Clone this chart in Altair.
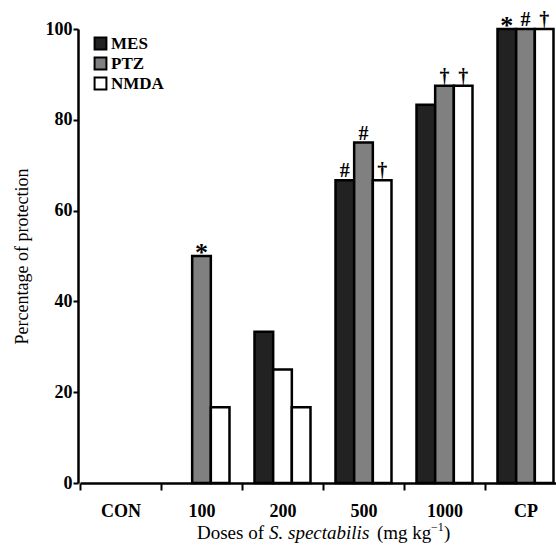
import altair as alt
import pandas as pd

# ---- data ----
doses = ["CON", "100", "200", "500", "1000", "CP"]
series = ["MES", "PTZ", "NMDA"]
mes = [0, 0, 33.3, 66.7, 83.3, 100]
ptz = [0, 50, 25, 75, 87.5, 100]
nmda = [0, 16.7, 16.7, 66.7, 87.5, 100]
colors = ["#222222", "#808080", "#ffffff"]
y_ticks = [0, 20, 40, 60, 80, 100]

marker_dose = ["100", "500", "500", "500", "1000", "1000", "CP", "CP", "CP"]
marker_series = ["PTZ", "MES", "PTZ", "NMDA", "PTZ", "NMDA", "MES", "PTZ", "NMDA"]
marker_symbol = ["*", "#", "#", "†", "†", "†", "*", "#", "†"]

rows = []
for s, vals in zip(series, [mes, ptz, nmda]):
    for d, v in zip(doses, vals):
        rows.append({"dose": d, "series": s, "value": v})
df = pd.DataFrame(rows)
lookup = {(r["dose"], r["series"]): r["value"] for r in rows}
mdf = pd.DataFrame({
    "dose": marker_dose,
    "series": marker_series,
    "symbol": marker_symbol,
    "value": [lookup[(d, s)] for d, s in zip(marker_dose, marker_series)],
})

FONT = "Liberation Serif"

x_scale = alt.Scale(domain=doses, range=[2, 488], paddingInner=0, paddingOuter=0)
x_axis = alt.Axis(title=None, tickBand="extent", labelAngle=0, labelFont=FONT,
                  labelFontSize=18, labelFontWeight="bold", labelColor="black",
                  tickSize=7, tickWidth=2, tickColor="black", domainWidth=2.5,
                  domainColor="black", labelPadding=12, grid=False)
y_scale = alt.Scale(domain=[0, 100], nice=False, zero=True)
y_axis = alt.Axis(values=y_ticks, title="Percentage of protection", titleFont=FONT,
                  titleFontSize=18, titleFontWeight="normal", titleColor="black",
                  titleX=-56, titleY=227, titleAngle=-90, titleBaseline="middle",
                  titleAlign="center",
                  labelFont=FONT, labelFontSize=18, labelFontWeight="bold",
                  labelColor="black", tickSize=5, tickWidth=2, tickColor="black",
                  domainWidth=2.5, domainColor="black", labelPadding=1, grid=False)
xoff = alt.XOffset("series:N", sort=series,
                   scale=alt.Scale(domain=series, paddingInner=0, paddingOuter=0.67))

bars = alt.Chart(df).transform_filter("datum.value > 0").mark_bar(
    stroke="black", strokeWidth=2.5
).encode(
    x=alt.X("dose:N", sort=doses, scale=x_scale, axis=x_axis),
    xOffset=xoff,
    y=alt.Y("value:Q", scale=y_scale, axis=y_axis),
    fill=alt.condition(
        "datum.dose == '200' && datum.series == 'PTZ'",
        alt.value("#ffffff"),
        alt.Fill("series:N", sort=series,
                 scale=alt.Scale(domain=series, range=colors),
                 legend=alt.Legend(title=None, orient="none", legendX=14, legendY=6,
                                   labelFont=FONT, labelFontSize=17,
                                   labelFontWeight="bold", labelColor="black",
                                   symbolType="square", symbolSize=140,
                                   symbolStrokeColor="black", symbolStrokeWidth=2,
                                   symbolFillColor="white",
                                   rowPadding=-1, padding=0, labelOffset=2)),
    ),
)

markers = alt.Chart(mdf).transform_filter("datum.symbol != '*'").mark_text(
    font=FONT, fontSize=20, fontWeight="bold", baseline="alphabetic", dy=-3, color="black"
).encode(
    x=alt.X("dose:N", sort=doses, scale=x_scale),
    xOffset=xoff,
    y=alt.Y("value:Q", scale=y_scale),
    text="symbol:N",
)

stars = alt.Chart(mdf).transform_filter("datum.symbol == '*'").mark_text(
    font=FONT, fontSize=26, fontWeight="bold", baseline="alphabetic", dy=5, color="black"
).encode(
    x=alt.X("dose:N", sort=doses, scale=x_scale),
    xOffset=xoff,
    y=alt.Y("value:Q", scale=y_scale),
    text="symbol:N",
)

one = alt.Data(values=[{"k": 1}])
TY = 510


def piece(txt, x, y=TY, size=19, style="normal"):
    return alt.Chart(one).mark_text(
        text=txt, font=FONT, fontSize=size, fontStyle=style, align="left",
        baseline="alphabetic", color="black"
    ).encode(x=alt.value(x), y=alt.value(y))


title_parts = [
    piece("Doses of", 119),
    piece("S. spectabilis", 191, style="italic"),
    piece("(mg kg", 299),
    piece("\u22121", 353, y=TY - 8, size=12),
    piece(")", 366),
]

chart = alt.layer(bars, markers, stars, *title_parts).properties(
    width=478, height=454,
    autosize=alt.AutoSizeParams(type="none"),
    padding={"left": 78, "top": 29, "right": 0, "bottom": 69},
    background="white",
).configure_view(stroke=None)

chart.save("out.html", embed_options={"renderer": "svg", "actions": False})
